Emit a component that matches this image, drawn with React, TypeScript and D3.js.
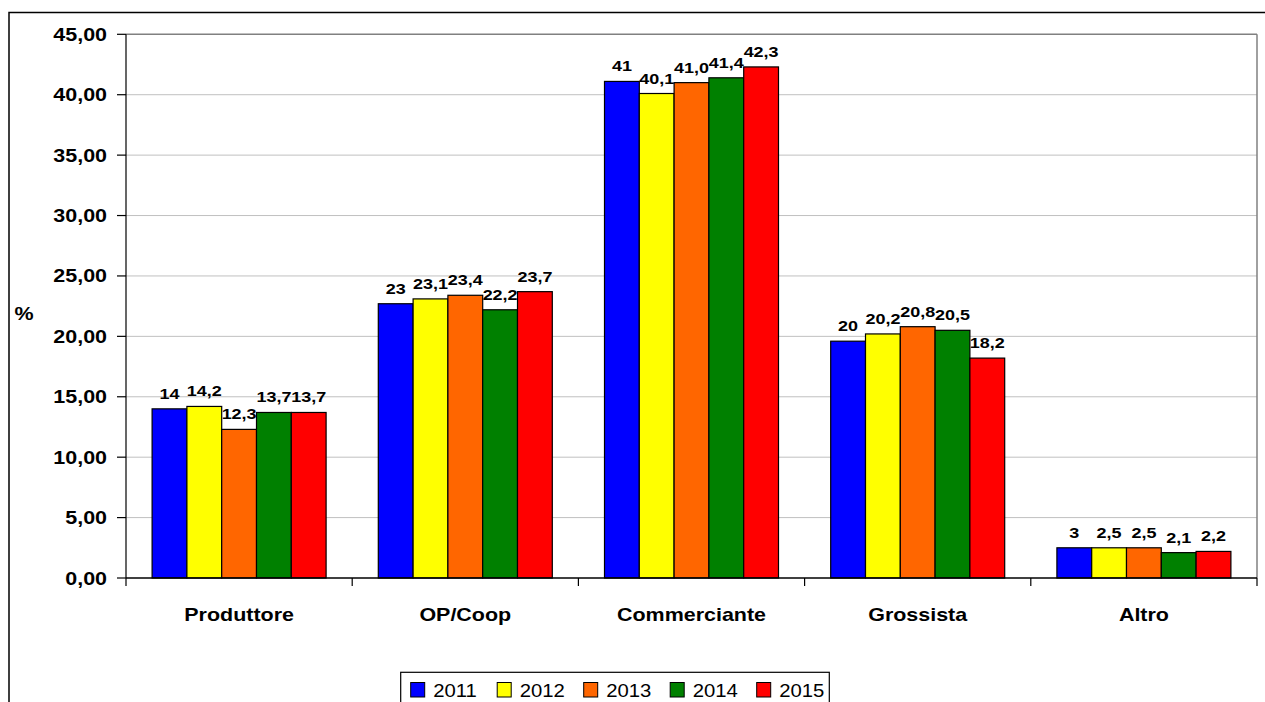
import React from "react";
import * as d3 from "d3";

// Chart data
const categories = ["Produttore", "OP/Coop", "Commerciante", "Grossista", "Altro"];
const years = ["2011", "2012", "2013", "2014", "2015"];
const v2011 = [14.0, 22.7, 41.1, 19.6, 2.5];
const v2012 = [14.2, 23.1, 40.1, 20.2, 2.5];
const v2013 = [12.3, 23.4, 41.0, 20.8, 2.5];
const v2014 = [13.7, 22.2, 41.4, 20.5, 2.1];
const v2015 = [13.7, 23.7, 42.3, 18.2, 2.2];
const labelDecimals = [0, 1, 1, 1, 1];
const yTicks = [0, 5, 10, 15, 20, 25, 30, 35, 40, 45];
const colors = ["#0000FF", "#FFFF00", "#FF6600", "#008000", "#FF0000"];

const series = [v2011, v2012, v2013, v2014, v2015];

const W = 1265;
const H = 702;
const plot = { left: 126, right: 1257, top: 34.3, bottom: 578 };
const FONT = "'Liberation Sans', Arial, sans-serif";
const SX = 1.16; // horizontal stretch of the text

const fmt = (v: number, d: number) => v.toFixed(d).replace(".", ",");

function SText(props: {
  x: number;
  y: number;
  size: number;
  anchor?: string;
  weight?: string;
  children: React.ReactNode;
}) {
  const { x, y, size, anchor = "middle", weight = "bold", children } = props;
  return (
    <text
      transform={`translate(${x},${y}) scale(${SX},1)`}
      textAnchor={anchor}
      fontFamily={FONT}
      fontSize={size}
      fontWeight={weight}
      fill="#000"
    >
      {children}
    </text>
  );
}

export default function App() {
  const x0 = d3
    .scaleBand<string>()
    .domain(categories)
    .range([plot.left, plot.right])
    .paddingInner(0)
    .paddingOuter(0);
  const x1 = d3
    .scaleBand<string>()
    .domain(years)
    .range([0, x0.bandwidth()])
    .paddingInner(0)
    .paddingOuter(0.75);
  const y = d3.scaleLinear().domain([0, 45]).range([plot.bottom, plot.top]);

  const boundaries = d3.range(categories.length + 1).map((i) => plot.left + i * x0.step());

  const legendX = 400.7;
  const legendItem = 86.5;

  return (
    <svg
      width={W}
      height={H}
      style={{ position: "absolute", left: 0, top: 0, background: "#fff" }}
    >
      {/* outer chart frame */}
      <rect x={9} y={12.5} width={W + 20} height={H + 20} fill="#fff" stroke="#000" strokeWidth={1.5} />

      {/* gridlines */}
      {yTicks.slice(1, -1).map((t) => (
        <line key={t} x1={plot.left} x2={plot.right} y1={y(t)} y2={y(t)} stroke="#c0c0c0" strokeWidth={1} />
      ))}
      {/* plot frame top/right */}
      <line x1={plot.left} x2={plot.right} y1={y(45)} y2={y(45)} stroke="#808080" strokeWidth={1.5} />
      <line x1={plot.right} x2={plot.right} y1={y(45)} y2={plot.bottom} stroke="#808080" strokeWidth={1.5} />

      {/* bars */}
      {categories.map((c, ci) => (
        <g key={c} transform={`translate(${x0(c)},0)`}>
          {years.map((yr, si) => {
            const v = series[si][ci];
            return (
              <rect
                key={yr}
                x={x1(yr)}
                y={y(v)}
                width={x1.bandwidth()}
                height={plot.bottom - y(v)}
                fill={colors[si]}
                stroke="#000"
                strokeWidth={1.2}
              />
            );
          })}
        </g>
      ))}

      {/* data labels */}
      {categories.map((c, ci) =>
        years.map((yr, si) => {
          const v = series[si][ci];
          const cx = (x0(c) as number) + (x1(yr) as number) + x1.bandwidth() / 2;
          return (
            <SText key={c + yr} x={cx} y={y(v) - 10} size={15.5}>
              {fmt(v, labelDecimals[si])}
            </SText>
          );
        })
      )}

      {/* y axis */}
      <line x1={plot.left} x2={plot.left} y1={plot.top} y2={plot.bottom} stroke="#000" strokeWidth={1.2} />
      {yTicks.map((t) => (
        <g key={t}>
          <line x1={plot.left - 9} x2={plot.left} y1={y(t)} y2={y(t)} stroke="#000" strokeWidth={1.2} />
          <SText x={107} y={y(t) + 6.5} size={18.5} anchor="end">
            {fmt(t, 2)}
          </SText>
        </g>
      ))}
      <SText x={24} y={320} size={18.5}>
        %
      </SText>

      {/* x axis */}
      <line x1={plot.left} x2={plot.right} y1={plot.bottom} y2={plot.bottom} stroke="#000" strokeWidth={1.5} />
      {boundaries.map((b, i) => (
        <line key={i} x1={b} x2={b} y1={plot.bottom} y2={plot.bottom + 8} stroke="#000" strokeWidth={1.2} />
      ))}
      {categories.map((c) => (
        <SText key={c} x={(x0(c) as number) + x0.bandwidth() / 2} y={620.7} size={18.5}>
          {c}
        </SText>
      ))}

      {/* legend */}
      <rect x={legendX} y={672.3} width={428.6} height={40} fill="#fff" stroke="#000" strokeWidth={1.2} />
      {years.map((yr, i) => {
        const lx = legendX + 10 + i * legendItem;
        return (
          <g key={yr}>
            <rect x={lx} y={682.5} width={14} height={14.5} fill={colors[i]} stroke="#000" strokeWidth={1} />
            <SText x={lx + 22.5} y={697.3} size={17.5} anchor="start" weight="normal">
              {yr}
            </SText>
          </g>
        );
      })}
    </svg>
  );
}
